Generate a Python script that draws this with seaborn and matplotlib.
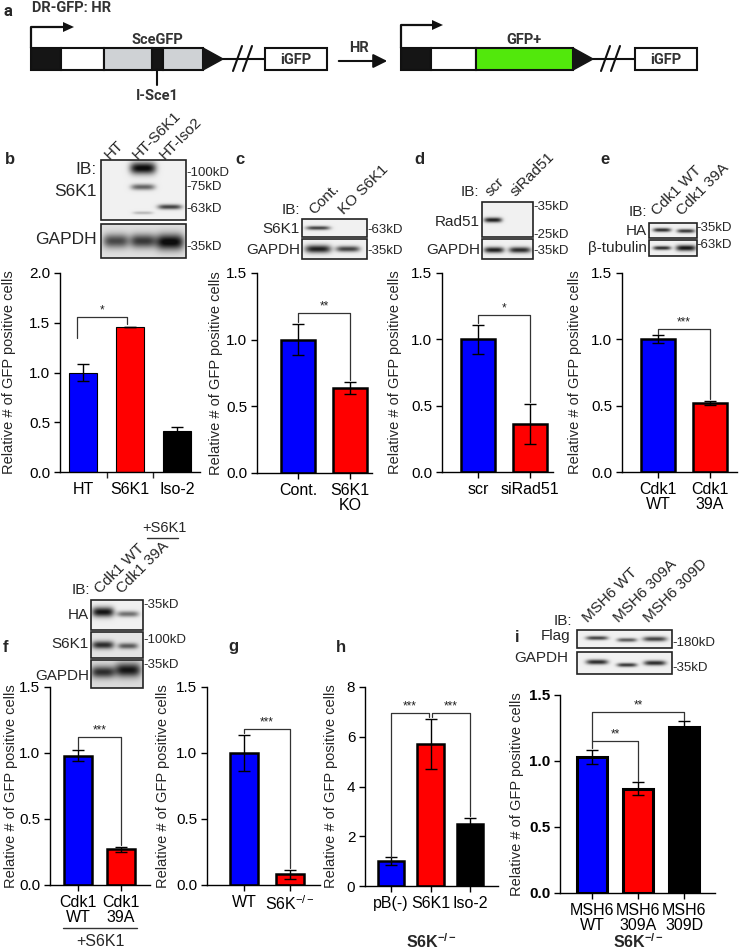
import numpy as np
import matplotlib
matplotlib.use("Agg")
import matplotlib.pyplot as plt
import seaborn as sns
from matplotlib.patches import Rectangle, Polygon

# ---- data ----
b_labels = ["HT", "S6K1", "Iso-2"]
b_vals = [1.0, 1.46, 0.41]
b_err = [0.09, 0.0, 0.04]

c_labels = ["Cont.", "S6K1\nKO"]
c_vals = [1.0, 0.64]
c_err = [0.115, 0.045]

d_labels = ["scr", "siRad51"]
d_vals = [1.0, 0.36]
d_err = [0.11, 0.15]

e_labels = ["Cdk1\nWT", "Cdk1\n39A"]
e_vals = [1.0, 0.52]
e_err = [0.03, 0.015]

f_labels = ["Cdk1\nWT", "Cdk1\n39A"]
f_vals = [0.98, 0.27]
f_err = [0.04, 0.02]

g_labels = ["WT", "S6K$^{-/-}$"]
g_vals = [1.0, 0.08]
g_err = [0.14, 0.035]

h_labels = ["pB(-)", "S6K1", "Iso-2"]
h_vals = [1.0, 5.72, 2.5]
h_err = [0.15, 1.0, 0.22]

i_labels = ["MSH6\nWT", "MSH6\n309A", "MSH6\n309D"]
i_vals = [1.03, 0.79, 1.26]
i_err = [0.055, 0.05, 0.04]

BLUE, RED, BLACK = "#0000ff", "#ff0000", "#000000"

sns.set_theme(style="ticks")
plt.rcParams["font.family"] = ["Liberation Sans", "DejaVu Sans"]
plt.rcParams["mathtext.fontset"] = "custom"
plt.rcParams["mathtext.rm"] = "Liberation Sans"
plt.rcParams["mathtext.it"] = "Liberation Sans:italic"
plt.rcParams["mathtext.bf"] = "Liberation Sans:bold"

W, H = 745, 951
fig = plt.figure(figsize=(7.45, 9.51), dpi=100)
fig.patch.set_facecolor("white")


def px_axes(l, r, t, b):
    return fig.add_axes([l / W, 1 - b / H, (r - l) / W, (b - t) / H])


def bar_panel(box, labels, vals, errs, colors, ylim, yticks, xlim, width, lw,
              ylab_x, brackets, ytick_fmt="{:.1f}", bold_y=False, between=False):
    ax = px_axes(*box)
    sns.barplot(x=labels, y=vals, hue=labels, order=labels, hue_order=labels,
                palette=dict(zip(labels, colors)), legend=False, width=width,
                edgecolor="black", linewidth=lw, saturation=1, ax=ax)
    ax.errorbar(range(len(vals)), vals, yerr=errs, fmt="none", ecolor="black",
                elinewidth=1, capsize=4.5, capthick=1, zorder=5)
    for xa, xb, top, la, lb, star in brackets:
        ax.plot([xa, xa, xb, xb], [la, top, top, lb], color="#333333", lw=0.9,
                clip_on=False, zorder=6)
        ax.annotate(star, ((xa + xb) / 2, top), xytext=(0, 0.5),
                    textcoords="offset points", ha="center", va="bottom",
                    fontsize=8.5, color="#222222")
    ax.set_xlim(*xlim)
    ax.set_ylim(*ylim)
    ax.set_yticks(yticks, labels=[ytick_fmt.format(v) for v in yticks],
                  fontweight="bold" if bold_y else "normal")
    sns.despine(ax=ax)
    for sp in ("left", "bottom"):
        ax.spines[sp].set_color("black")
        ax.spines[sp].set_linewidth(1)
    ax.tick_params(axis="both", direction="out", length=4, width=1,
                   colors="black", pad=3)
    ax.tick_params(axis="y", labelsize=11)
    ax.tick_params(axis="x", labelsize=11.5)
    for t in ax.get_xticklabels():
        t.set_linespacing(1.0)
    if between:
        ax.tick_params(axis="x", which="major", length=0, pad=7)
        ax.set_xticks([k + 0.5 for k in range(len(vals) - 1)], minor=True)
        ax.tick_params(axis="x", which="minor", length=4, width=1)
    ax.set_xlabel("")
    ax.set_ylabel("Relative # of GFP positive cells", fontsize=10.5, va="center")
    ax.yaxis.set_label_coords((ylab_x - box[0]) / (box[1] - box[0]), 0.5)
    return ax


bar_panel((60, 200, 273, 472), b_labels, b_vals, b_err, [BLUE, RED, BLACK],
          (0, 2.0), [0, 0.5, 1.0, 1.5, 2.0], (-0.49, 2.49), 0.6, 0.8, 9,
          [(-0.12, 0.94, 1.56, 1.35, 1.49, "*")], between=True)
bar_panel((257, 372, 273, 473), c_labels, c_vals, c_err, [BLUE, RED],
          (0, 1.5), [0, 0.5, 1.0, 1.5], (-0.79, 1.42), 0.65, 1.8, 216,
          [(0, 1, 1.2, 1.13, 0.70, "**")])
bar_panel((442, 553, 273, 472), d_labels, d_vals, d_err, [BLUE, RED],
          (0, 1.5), [0, 0.5, 1.0, 1.5], (-0.69, 1.44), 0.64, 1.8, 395,
          [(0, 1, 1.18, 1.12, 0.53, "*")])
bar_panel((622, 737, 273, 472), e_labels, e_vals, e_err, [BLUE, RED],
          (0, 1.5), [0, 0.5, 1.0, 1.5], (-0.69, 1.52), 0.64, 1.8, 575,
          [(0, 1, 1.08, 1.04, 0.55, "***")])
bar_panel((50, 150, 687, 885), f_labels, f_vals, f_err, [BLUE, RED],
          (0, 1.5), [0, 0.5, 1.0, 1.5], (-0.65, 1.67), 0.65, 1.8, 11,
          [(0, 1, 1.12, 1.03, 0.30, "***")])
bar_panel((207, 320, 687, 885), g_labels, g_vals, g_err, [BLUE, RED],
          (0, 1.5), [0, 0.5, 1.0, 1.5], (-0.80, 1.65), 0.61, 1.8, 163,
          [(0, 1, 1.18, 1.15, 0.13, "***")])
bar_panel((365, 498, 687, 886), h_labels, h_vals, h_err, [BLUE, RED, BLACK],
          (0, 8), [0, 2, 4, 6, 8], (-0.66, 2.71), 0.66, 1.8, 331,
          [(0, 0.96, 6.95, 1.17, 6.8, "***"), (1.04, 2, 6.95, 6.8, 2.8, "***")],
          ytick_fmt="{:.0f}")
bar_panel((560, 715, 695, 893), i_labels, i_vals, i_err, [BLUE, RED, BLACK],
          (0, 1.5), [0, 0.5, 1.0, 1.5], (-0.70, 2.67), 0.65, 2.2, 517,
          [(0, 1, 1.15, 1.10, 0.85, "**"), (0, 2, 1.37, 1.15, 1.31, "**")],
          bold_y=True)

# ---- overlay for schematic, blots and annotations (pixel coordinates) ----
ov = fig.add_axes([0, 0, 1, 1], zorder=10)
ov.set_axis_off()


def txt(x, y, s, **kw):
    kw.setdefault("va", "center")
    kw.setdefault("fontsize", 11)
    ov.text(x, y, s, **kw)


def box(x0, x1, y0, y1, fc, lw=1.5):
    ov.add_patch(Rectangle((x0, y0), x1 - x0, y1 - y0, fc=fc, ec="#111111", lw=lw, zorder=3))


def blot(x0, y0, x1, y1, bands, bg=0.03):
    xs = np.linspace(x0, x1, int((x1 - x0) * 3))
    ys = np.linspace(y0, y1, int((y1 - y0) * 3))
    X, Y = np.meshgrid(xs, ys)
    dark = np.full(X.shape, bg)
    for cx, cy, w, h, s in bands:
        dark += s * np.exp(-((X - cx) / w) ** 4 - ((Y - cy) / h) ** 2)
    img = 0.97 - 0.92 * np.clip(dark, 0, 1)
    ov.imshow(img, cmap="gray", vmin=0, vmax=1, extent=(x0, x1, y1, y0),
              aspect="auto", interpolation="bilinear", zorder=2)
    ov.add_patch(Rectangle((x0, y0), x1 - x0, y1 - y0, fill=False, lw=1.2,
                           ec="#222222", zorder=3))


# schematic (panel a)
SC = dict(fontsize=10.5, fontweight="bold", color="#333333", family=["Roboto", "DejaVu Sans"])
txt(4, 11, "a", fontsize=12, fontweight="bold", family=["Roboto", "DejaVu Sans"])
txt(32, 8, "DR-GFP: HR", **SC)
for (vx, vy, hx), head in (((31, 48, 64), 27), ((401, 48, 433), 25)):
    ov.plot([vx, vx, hx], [vy, head, head], color="#111111", lw=1.6, zorder=3)
    ov.add_patch(Polygon([(hx - 1, head - 5), (hx + 10, head), (hx - 1, head + 5)],
                         fc="#111111", ec="none", zorder=3))
for x0, x1, fc in ((31, 61, "#151515"), (61, 104, "white"), (104, 152, "#cfd2d5"),
                   (152, 163, "#151515"), (163, 203, "#cfd2d5")):
    box(x0, x1, 48, 70, fc)
for x0, x1, fc in ((401, 431, "#151515"), (431, 476, "white"), (476, 573, "#52e80c")):
    box(x0, x1, 48, 70, fc)
for tip, lend, sl in ((203, 265, 233), (573, 635, 601)):
    ov.add_patch(Polygon([(tip, 48), (tip + 20, 59), (tip, 70)], fc="#151515",
                         ec="#151515", zorder=3))
    ov.plot([tip + 20, lend], [59, 59], color="#111111", lw=1.5, zorder=3)
    for dx in (0, 10):
        ov.plot([sl + dx, sl + dx + 9], [71, 46], color="#111111", lw=1.5, zorder=4)
for x0 in (265, 635):
    box(x0, x0 + 62, 48, 70, "white")
    txt(x0 + 31, 59.5, "iGFP", ha="center", **SC)
txt(157, 40, "SceGFP", ha="center", **SC)
txt(524, 40, "GFP+", ha="center", **SC)
ov.plot([157, 157], [70, 85], color="#111111", lw=1.5, zorder=3)
txt(157, 96, "I-Sce1", ha="center", **SC)
ov.annotate("", xy=(390, 61), xytext=(336, 61),
            arrowprops=dict(arrowstyle="-|>,head_length=0.7,head_width=0.35",
                            color="#111111", lw=1.5))
txt(359, 48, "HR", ha="center", **SC)

# panel letters
for x, y, s in ((5, 160, "b"), (235, 160, "c"), (414, 160, "d"), (600, 160, "e"),
                (3, 647, "f"), (228, 647, "g"), (336, 647, "h"), (515, 638, "i")):
    txt(x, y, s, fontsize=12, fontweight="bold")

MK = dict(fontsize=9.5, ha="left")
RL = dict(fontsize=11, ha="right")
LANE = dict(fontsize=11, rotation=45, rotation_mode="anchor", ha="left", va="baseline")

# b blot
blot(101, 160, 186, 220, [(143, 168, 13, 6, 1.0), (143, 187, 12, 3, 0.6),
                          (143, 213, 10, 1.5, 0.25), (170, 207, 12, 2.5, 0.75)])
blot(101, 224, 186, 258, [(116, 241, 13, 7, 0.65), (143, 241, 13, 7, 0.72),
                          (170, 242, 14, 8, 0.95)], bg=0.1)
for x, s in ((110, "HT"), (138, "HT-S6K1"), (165, "HT-Iso2")):
    txt(x, 160, s, **LANE)
txt(97, 170, "IB:", fontsize=12.5, ha="right")
txt(97, 191, "S6K1", fontsize=12.5, ha="right")
txt(97, 240, "GAPDH", fontsize=12.5, ha="right")
for y, s in ((173, "-100kD"), (187, "-75kD"), (209, "-63kD"), (247, "-35kD")):
    txt(186, y, s, **MK)

# c blot
blot(302, 219, 367, 237, [(318, 228, 12, 2, 0.75)])
blot(302, 239, 367, 259, [(318, 249, 13, 4, 0.9), (348, 249, 12, 3, 0.75)])
txt(314, 215, "Cont.", **LANE)
txt(344, 215, "KO S6K1", **LANE)
txt(300, 210, "IB:", **RL)
txt(300, 229, "S6K1", **RL)
txt(300, 250, "GAPDH", **RL)
txt(367, 230, "-63kD", **MK)
txt(367, 251, "-35kD", **MK)

# d blot
blot(482, 202, 533, 237, [(493, 220, 9, 2.5, 0.9)])
blot(482, 239, 533, 259, [(494, 250, 10, 3, 0.9), (520, 250, 11, 3, 0.85)])
txt(491, 197, "scr", **LANE)
txt(516, 197, "siRad51", **LANE)
txt(479, 192, "IB:", **RL)
txt(480, 222, "Rad51", **RL)
txt(480, 250, "GAPDH", **RL)
txt(533, 207, "-35kD", **MK)
txt(533, 235, "-25kD", **MK)
txt(533, 251, "-35kD", **MK)

# e blot
blot(649, 223, 697, 238, [(662, 230, 9, 2, 0.85), (686, 231, 9, 2, 0.8)])
blot(649, 240, 697, 256, [(662, 248, 9, 2, 0.85), (686, 248, 10, 3, 0.95)])
txt(657, 216, "Cdk1 WT", **LANE)
txt(682, 216, "Cdk1 39A", **LANE)
txt(647, 212, "IB:", **RL)
txt(647, 231, "HA", **RL)
txt(647, 248, "β-tubulin", **RL)
txt(696, 228, "-35kD", **MK)
txt(696, 245, "-63kD", **MK)

# f blot
blot(91, 600, 143, 630, [(103, 612, 11, 5, 0.95), (128, 614, 11, 3, 0.55)])
blot(91, 632, 143, 658, [(103, 645, 11, 4, 0.8), (128, 646, 10, 3, 0.6)], bg=0.08)
blot(91, 660, 143, 688, [(103, 672, 12, 6, 0.75), (128, 670, 13, 7, 0.85)], bg=0.12)
txt(100, 594, "Cdk1 WT", **LANE)
txt(122, 594, "Cdk1 39A", **LANE)
ov.plot([147, 178], [538, 538], color="#333333", lw=1)
txt(164, 528, "+S6K1", fontsize=10.5, ha="center")
txt(90, 590, "IB:", **RL)
txt(89, 615, "HA", **RL)
txt(89, 644, "S6K1", **RL)
txt(89, 676, "GAPDH", **RL)
txt(143, 605, "-35kD", **MK)
txt(143, 640, "-100kD", **MK)
txt(143, 665, "-35kD", **MK)
ov.plot([63, 137], [928, 928], color="#333333", lw=1)
txt(100, 941, "+S6K1", fontsize=11.5, ha="center")

# i blot
blot(577, 630, 672, 648, [(597, 638, 11, 2, 0.75), (627, 640, 10, 2, 0.65),
                          (655, 639, 12, 2.5, 0.75)])
blot(577, 652, 672, 674, [(597, 662, 11, 2.5, 0.85), (627, 665, 10, 2, 0.8),
                          (655, 663, 11, 2.5, 0.85)])
txt(588, 623, "MSH6 WT", **LANE)
txt(619, 623, "MSH6 309A", **LANE)
txt(649, 623, "MSH6 309D", **LANE)
txt(572, 621, "IB:", **RL)
txt(570, 636, "Flag", **RL)
txt(568, 658, "GAPDH", **RL)
txt(672, 643, "-180kD", **MK)
txt(672, 668, "-35kD", **MK)

txt(431, 942, r"$\mathbf{S6K^{-/-}}$", fontsize=11.5, ha="center")
txt(638, 942, r"$\mathbf{S6K^{-/-}}$", fontsize=11.5, ha="center")

ov.set_xlim(0, W)
ov.set_ylim(H, 0)

fig.savefig("out.png", dpi=100)
